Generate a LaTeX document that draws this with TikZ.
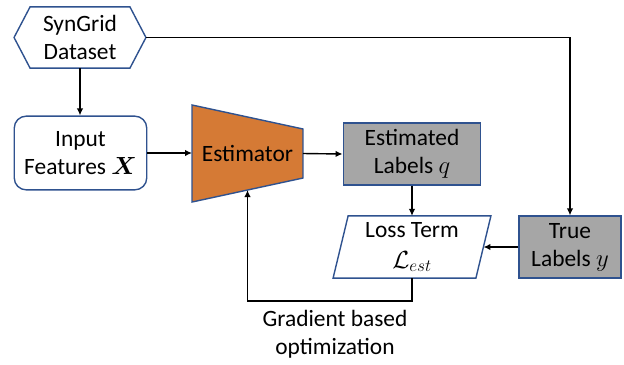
\documentclass[tikz,border=0pt]{standalone}
\usepackage{fontspec}
\setmainfont{Carlito}
\usepackage{amsmath,bm}
\usetikzlibrary{arrows.meta,calc,backgrounds}
\definecolor{edgeblue}{HTML}{2F528F}
\definecolor{estorange}{HTML}{D57A35}
\definecolor{labelgray}{HTML}{A6A6A6}
\begin{document}
\begin{tikzpicture}[x=1bp,y=-1bp,
  font=\fontsize{23.5}{28}\selectfont,
  holder/.style={inner sep=0pt, align=center},
  frame/.style={draw=edgeblue, line width=1.4bp},
  graybox/.style={holder, frame, fill=labelgray},
  conn/.style={line width=1.4bp, -{Latex[length=7bp,width=6.5bp]}}]
\useasboundingbox (0,0) rectangle (624,364);

% text holders and boxes
\node[holder, minimum width=132, minimum height=61] (data) at (80,37.5) {SynGrid\\Dataset};
\node[holder, frame, fill=white, rounded corners=12, minimum width=133, minimum height=74] (inp) at (80.5,153) {Input\\Features $\bm{X}$};
\node[holder, minimum width=111, minimum height=97] (est) at (247.5,153.5) {Estimator};
\node[graybox, minimum width=138, minimum height=62] (estlab) at (412,154) {Estimated\\Labels $q$};
\node[holder, minimum width=158, minimum height=62] (loss) at (412,247) {Loss Term\\[3pt]$\mathcal{L}_{est}$};
\node[graybox, minimum width=102, minimum height=62] (true) at (570,247) {True\\Labels $y$};
\node[holder] (grad) at (335,334) {Gradient based\\optimization};

% outlines of the non-rectangular shapes
\begin{scope}[on background layer]
  \draw[frame, fill=white] (data.west) -- ($(data.north west)+(16,0)$) -- ($(data.north east)+(-16,0)$)
    -- (data.east) -- ($(data.south east)+(-16,0)$) -- ($(data.south west)+(16,0)$) -- cycle;
  \draw[frame, fill=estorange] (est.north west) -- ($(est.north east)+(0,24)$)
    -- ($(est.south east)+(0,-24)$) -- (est.south west) -- cycle;
  \draw[frame, fill=white] (loss.south west) -- ($(loss.north west)+(15,0)$)
    -- (loss.north east) -- ($(loss.south east)+(-15,0)$) -- cycle;
\end{scope}

% connectors
\draw[conn] (data.south) -- (data.south |- inp.north);
\draw[conn] (data.east) -| (true.north);
\draw[conn] (inp.east) -- (inp.east -| est.west);
\draw[conn] (est.east) -- (estlab.west);
\draw[conn] (estlab.south) -- (loss.north);
\draw[conn] (true.west) -- ($(loss.east)+(-7.5,0)$);
\draw[conn] (loss.south) -- ++(0,23) -| ($(est.south)+(0,-12)$);
\end{tikzpicture}
\end{document}
